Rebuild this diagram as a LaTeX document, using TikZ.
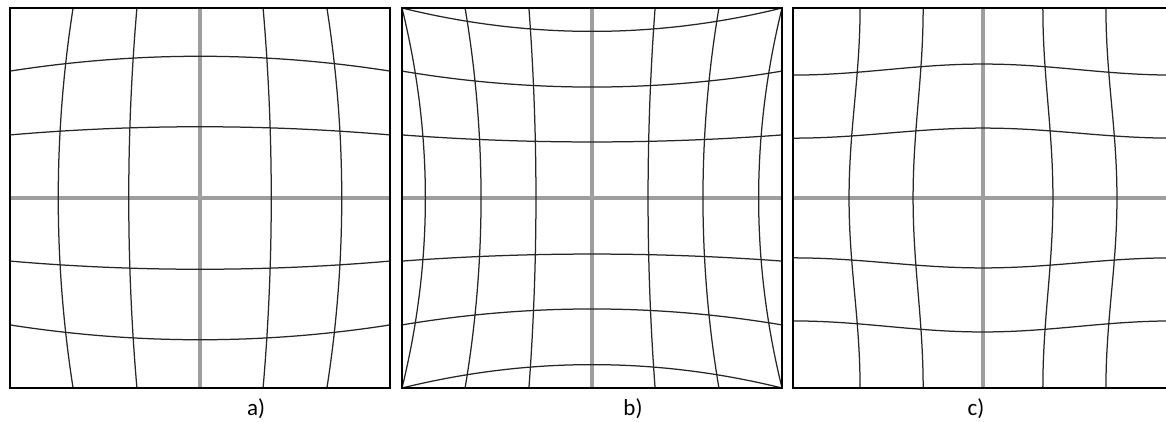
\documentclass[tikz,border=0pt]{standalone}
\usepackage{fontspec}
\setmainfont{Carlito}
\begin{document}
\begin{tikzpicture}[x=1pt,y=-1pt,
  gridline/.style={line width=1.25pt, color=black!85},
  axisline/.style={line width=3.2pt, color=black!38},
  panelframe/.style={line width=2.2pt, color=black},
  lbl/.style={font=\fontsize{23}{26}\selectfont, inner sep=0pt}]
\useasboundingbox (0,0) rectangle (1166,421);
\clip (0,0) rectangle (1166,421);
\fill[white] (0,0) rectangle (1166,421);

% ---------- panel a (barrel) ----------
\begin{scope}
  \clip (10,8) rectangle (390,388);
  \draw[axisline] (200,8) -- (200,388);
  \draw[axisline] (10,198) -- (390,198);
  \foreach \m/\e in {0.375/0.332, 0.746/0.668, -0.375/-0.332, -0.746/-0.668} {
    \draw[gridline] plot[domain=-1:1, samples=41, smooth]
      ({200+190*((\m)+((\e)-(\m))*(\x)*(\x))},{198+190*(\x)});
    \draw[gridline] plot[domain=-1:1, samples=41, smooth]
      ({200+190*(\x)},{198+190*((\m)+((\e)-(\m))*(\x)*(\x))});
  }
\end{scope}
\draw[panelframe] (10,8) rectangle (390,388);

% ---------- panel b (pincushion) ----------
\begin{scope}
  \clip (402,8) rectangle (782,388);
  \draw[axisline] (592,8) -- (592,388);
  \draw[axisline] (402,198) -- (782,198);
  \foreach \m/\e in {0.295/0.332, 0.584/0.668, 0.877/1.0, -0.295/-0.332, -0.584/-0.668, -0.877/-1.0} {
    \draw[gridline] plot[domain=-1:1, samples=41, smooth]
      ({592+190*((\m)+((\e)-(\m))*(\x)*(\x))},{198+190*(\x)});
    \draw[gridline] plot[domain=-1:1, samples=41, smooth]
      ({592+190*(\x)},{198+190*((\m)+((\e)-(\m))*(\x)*(\x))});
  }
\end{scope}
\draw[panelframe] (402,8) rectangle (782,388);

% ---------- panel c (mustache) ----------
\begin{scope}
  \clip (793,8) rectangle (1173,388);
  \draw[axisline] (983,8) -- (983,388);
  \draw[axisline] (793,198) -- (1173,198);
  \foreach \m/\e in {0.368/0.315, 0.705/0.647, -0.368/-0.315, -0.705/-0.647} {
    \draw[gridline] plot[domain=-1:1, samples=61, smooth]
      ({983+190*((\m)+((\e)-(\m))*sin(90*(\x))^2)},{198+190*(\x)});
    \draw[gridline] plot[domain=-1:1, samples=61, smooth]
      ({983+190*(\x)},{198+190*((\m)+((\e)-(\m))*sin(90*(\x))^2)});
  }
\end{scope}
\draw[panelframe] (793,8) rectangle (1173,388);

% ---------- labels ----------
\node[lbl] (la) at (256,409) {a)};
\node[lbl] (lb) at (633,409) {b)};
\node[lbl] (lc) at (976,409) {c)};
\end{tikzpicture}
\end{document}
